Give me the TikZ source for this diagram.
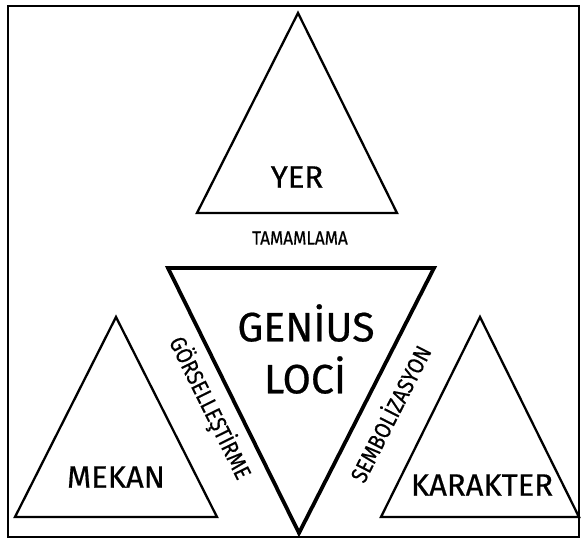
\documentclass[tikz,border=0pt]{standalone}
\usepackage{fontspec}
\setmainfont{Fira Sans}[FakeBold=0.5]
\usetikzlibrary{positioning}
\newcommand{\narrow}[2][0.85]{\scalebox{#1}[1]{#2}}

\begin{document}
\begin{tikzpicture}[x=1pt, y=-1pt,
    tri/.style={draw, line width=2.3pt, line join=miter},
    core/.style={draw, line width=3.8pt, line join=miter},
    pole/.style={inner sep=0pt, font=\fontsize{31}{32}\selectfont},
    heart/.style={inner sep=0pt, font=\fontsize{41}{42}\selectfont},
    link/.style={inner sep=0pt, font=\fontsize{23}{24}\selectfont}]

    \useasboundingbox (0,0) rectangle (581,539);
    \draw [line width=2pt] (8,6) rectangle (579,537);

    % the three outer triangles
    \draw [tri] (197,213) -- (298,13) -- (397,213) -- cycle;
    \draw [tri] (15,517) -- (116,317) -- (217,517) -- cycle;
    \draw [tri] (381,517) -- (480,317) -- (579,517) -- cycle;
    % the inverted one in the middle
    \draw [core] (168,268) -- (434,268) -- (299,533) -- cycle;

    \node [pole] (yer) at (297,177) {YER};
    \node [pole] (mekan) at (116,477) {MEKAN};
    \node [pole] (karakter) at (482,485) {KARAKTER};

    \node [heart] (genius) at (306,323) {GENİUS};
    \node [heart] (loci) at (305,375) {LOCİ};

    \node [link, font=\fontsize{19}{20}\selectfont] (tamamlama) at (300,238) {\narrow[0.9]{TAMAMLAMA}};
    \node [link, rotate=-63.7] (gorsel) at (210,408) {\narrow[0.87]{GÖRSELLEŞTİRME}};
    \node [link, rotate=63] (sembol) at (389,413) {\narrow[0.87]{SEMBOLİZASYON}};
\end{tikzpicture}
\end{document}
